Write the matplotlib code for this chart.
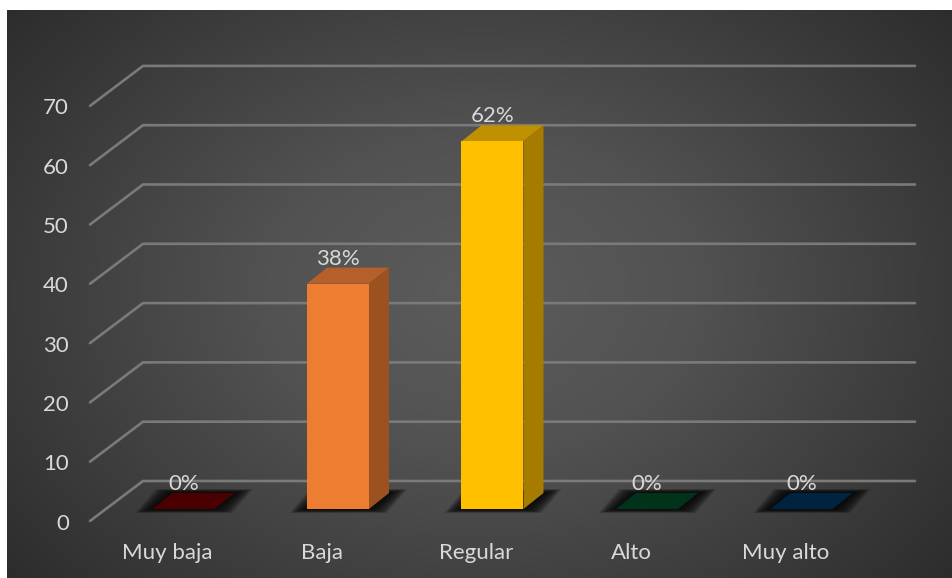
import numpy as np
import matplotlib
matplotlib.use('AGG')
import matplotlib.pyplot as plt
from matplotlib.patches import Polygon
from matplotlib.colors import LinearSegmentedColormap

# chart data
categories = ['Muy baja', 'Baja', 'Regular', 'Alto', 'Muy alto']
values = [0, 38, 62, 0, 0]
pct_labels = ['0%', '38%', '62%', '0%', '0%']
y_ticks = [0, 10, 20, 30, 40, 50, 60, 70]

# front, top, side colours per bar
front_colors = ['#4a0000', '#ed7d31', '#ffc000', '#00331a', '#002440']
top_colors = ['#4a0000', '#b5602a', '#bf9000', '#00331a', '#002440']
side_colors = ['#4a0000', '#9c5220', '#a67c00', '#00331a', '#002440']

W, H = 952, 578
X0, DX = 183.5, 154.5   # pixel of first category, pixels per category
Y0, DY = 509.0, 5.93    # pixel of value 0, pixels per unit
FS = 16

plt.rcParams['font.family'] = ['Lato', 'DejaVu Sans']
fig = plt.figure(figsize=(W / 100, H / 100), dpi=100, facecolor='white')
ax = fig.add_axes([0, 0, 1, 1])
xlim = ((0 - X0) / DX, (W - X0) / DX)
ylim = ((Y0 - H) / DY, Y0 / DY)


# pixel offsets to data units, the depth of the fake 3d is fixed in pixels
def ox(px):
    return px / DX


def oy(px):
    return px / DY


# panel background, radial glow
gx, gy = np.meshgrid(np.linspace(7, W, 472), np.linspace(10, H, 284))
r = np.hypot((gx - 480) / 640, (gy - 294) / 470)
r = np.clip(r, 0, 1)
cmap = LinearSegmentedColormap.from_list('bg', ['#5c5c5c', '#525252', '#3e3e3e', '#2a2a2a'])
ax.imshow(r, cmap=cmap, vmin=0, vmax=1, aspect='auto', zorder=0,
          extent=[(7 - X0) / DX, xlim[1], ylim[0], (Y0 - 10) / DY])

# gridlines: slanted piece from the front then along the back wall
for t in y_ticks:
    ax.plot([(90 - X0) / DX, (143 - X0) / DX, (915 - X0) / DX],
            [t - oy(12), t + oy(28), t + oy(28)],
            color='#7a7a7a', lw=1.9, zorder=1, solid_capstyle='round')
    ax.text((69 - X0) / DX, t - oy(12.5), str(t), color='#d9d9d9', fontsize=FS,
            ha='right', va='center_baseline', zorder=5)

for i, v in enumerate(values):
    w = ox(31)
    d = ox(20)
    h = oy(16)
    # soft shadow on the floor, stretched mostly sideways
    sx = i + ox(0.5)
    n = 24
    for k in range(n):
        sp = ox(0.5 + 0.75 * (n - 1 - k))
        sv = oy(0.17 * (n - 1 - k))
        ax.add_patch(Polygon([(sx - w - sp, -sv), (sx + w + sp, -sv),
                              (sx + w + d + sp, h + sv), (sx - w + d - sp, h + sv)],
                             closed=True, fc='#0a0a0a', ec='none', alpha=0.085, zorder=2))
    # faces of the column
    ax.add_patch(Polygon([(i - w, v), (i + w, v), (i + w + d, v + h), (i - w + d, v + h)],
                         closed=True, fc=top_colors[i], ec='none', zorder=3))
    if v > 0:
        ax.add_patch(Polygon([(i + w, 0), (i + w + d, h), (i + w + d, v + h), (i + w, v)],
                             closed=True, fc=side_colors[i], ec='none', zorder=3))
        ax.add_patch(Polygon([(i - w, 0), (i + w, 0), (i + w, v), (i - w, v)],
                             closed=True, fc=front_colors[i], ec='none', zorder=3))
    ax.text(i, v + oy(27), pct_labels[i], color='#d9d9d9', fontsize=FS,
            ha='center', va='center_baseline', zorder=6)
    ax.text(i - ox(16), -oy(42), categories[i], color='#d9d9d9', fontsize=FS,
            ha='center', va='center_baseline', zorder=6)

ax.set_xlim(xlim)
ax.set_ylim(ylim)
ax.axis('off')
fig.savefig('out.png', dpi=100, facecolor='white')
